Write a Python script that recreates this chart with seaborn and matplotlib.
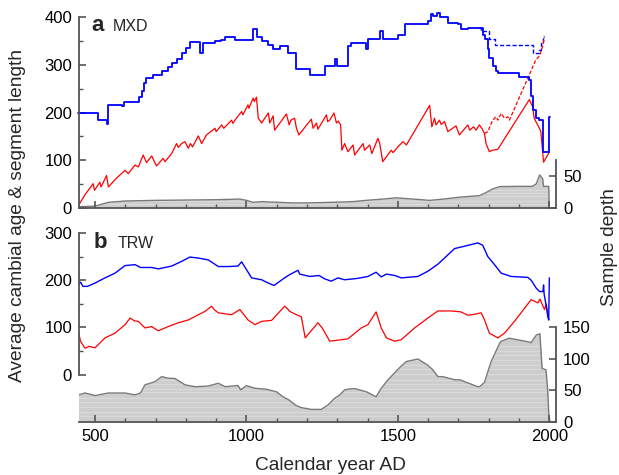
import numpy as np
import pandas as pd
import matplotlib
matplotlib.use("Agg")
import matplotlib.pyplot as plt
import seaborn as sns

# ---------------- MXD (panel a) ----------------
# mean cambial age, stepwise series (year of change, value)
mxd_age_years = [445, 510, 538, 543, 588, 595, 638, 645, 655, 662, 669, 690, 720, 740, 753, 770,
                 786, 800, 813, 846, 857, 896, 915, 929, 962, 1022, 1036, 1050, 1070, 1087, 1110,
                 1136, 1165, 1210, 1258, 1291, 1300, 1334, 1345, 1396, 1400, 1440, 1450, 1500,
                 1522, 1598, 1610, 1615, 1630, 1640, 1664, 1697, 1708, 1730, 1780, 1786, 1797,
                 1802, 1813, 1824, 1829, 1901, 1934, 1940, 1945, 1956, 1967, 1978, 2000, 2003]
mxd_age_values = [198, 184, 176, 216, 213, 223, 221, 233, 245, 262, 272, 279, 286, 296, 304, 312,
                  325, 335, 347, 325, 346, 350, 352, 358, 351, 374, 358, 349, 342, 333, 339,
                  325, 291, 278, 298, 312, 297, 339, 346, 332, 353, 370, 353, 363,
                  385, 392, 406, 402, 409, 400, 388, 385, 374, 378, 363, 353, 332,
                  314, 297, 286, 283, 274, 269, 234, 206, 188, 184, 118, 191, 191]

# alternative cambial age (dashed)
mxd_age_alt_years = [1769, 1775, 1802, 1819, 1945, 1967, 1972, 1978, 1984]
mxd_age_alt_values = [378, 370, 353, 341, 325, 330, 345, 360, 360]

# mean segment length (sawtooth)
mxd_seg_years = [445, 467, 494, 498, 516, 520, 538, 544, 570, 599, 610, 632, 643, 659, 670, 687,
                 703, 725, 731, 753, 764, 769, 775, 786, 797, 808, 815, 822, 841, 852, 868, 896,
                 900, 918, 925, 951, 955, 962, 984, 988, 1005, 1008, 1022, 1026, 1033, 1039,
                 1050, 1072, 1077, 1088, 1093, 1132, 1141, 1147, 1159, 1165, 1173, 1214, 1220,
                 1231, 1236, 1264, 1268, 1275, 1289, 1297, 1303, 1311, 1315, 1324, 1335, 1352,
                 1357, 1385, 1390, 1407, 1414, 1434, 1440, 1450, 1478, 1484, 1500, 1517, 1528,
                 1605, 1612, 1621, 1626, 1637, 1643, 1654, 1665, 1692, 1703, 1731, 1737, 1750,
                 1758, 1769, 1777, 1786, 1791, 1802, 1813, 1830, 1934, 1945, 1950, 1967, 1972,
                 1981, 2000]
mxd_seg_values = [5, 28, 51, 37, 54, 44, 68, 44, 62, 79, 72, 90, 86, 111, 95, 109,
                  88, 104, 97, 114, 128, 135, 127, 135, 139, 125, 135, 128, 151, 135, 153, 167,
                  160, 174, 167, 184, 177, 184, 202, 195, 216, 209, 230, 223, 232, 188,
                  178, 199, 178, 193, 163, 197, 174, 184, 188, 167, 153, 186, 167,
                  178, 165, 195, 181, 184, 199, 178, 182, 174, 121, 135, 118, 132,
                  111, 135, 121, 132, 114, 146, 135, 97, 121, 116, 128, 139, 132,
                  215, 170, 188, 174, 184, 175, 181, 160, 172, 153, 174, 163, 170,
                  163, 174, 167, 156, 135, 118, 121, 123, 227, 212, 188, 167, 160,
                  96, 117]

# alternative segment length (dashed)
mxd_seg_alt_years = [1786, 1797, 1813, 1824, 1830, 1841, 1852, 1863, 1868, 1956, 1967, 1978, 1984]
mxd_seg_alt_values = [156, 160, 184, 191, 184, 198, 188, 191, 184, 311, 318, 339, 357]

# sample depth
mxd_depth_years = [445, 500, 530, 545, 600, 700, 800, 900, 978, 1000, 1022, 1050, 1100, 1150,
                   1200, 1285, 1350, 1395, 1450, 1495, 1550, 1605, 1650, 1704, 1770, 1790, 1813,
                   1836, 1900, 1944, 1957, 1968, 1978, 1981, 1998, 2000]
mxd_depth_values = [2, 3, 7, 9, 11, 12, 12.5, 13, 14, 12, 9, 10, 9, 8,
                    8, 9, 10, 12, 14, 16, 14, 12, 14, 17, 19.5, 24, 30,
                    33.6, 34, 34, 38, 52, 46, 34, 34, 0]

# ---------------- TRW (panel b) ----------------
trw_age_years = [445, 452, 460, 475, 500, 533, 566, 599, 632, 650, 687, 709, 731, 753, 786, 813,
                 841, 874, 907, 940, 972, 984, 1017, 1050, 1072, 1091, 1126, 1143, 1170, 1176,
                 1209, 1240, 1258, 1280, 1302, 1324, 1368, 1401, 1428, 1445, 1462, 1490, 1511,
                 1566, 1599, 1632, 1654, 1687, 1720, 1764, 1780, 1797, 1819, 1841, 1874, 1929,
                 1940, 1957, 1968, 1979, 1981, 1983, 1989, 1995, 1998, 2000]
trw_age_values = [190, 196, 187, 187, 194, 205, 215, 231, 233, 227, 227, 224, 227, 230, 240, 249,
                  247, 243, 229, 229, 230, 239, 205, 201, 194, 189, 205, 212, 221, 213,
                  208, 210, 203, 198, 205, 201, 204, 208, 217, 207, 213, 210, 205,
                  208, 219, 234, 247, 267, 272, 279, 274, 250, 233, 215, 208, 206,
                  200, 183, 176, 176, 190, 170, 148, 123, 116, 205]

trw_seg_years = [445, 452, 467, 480, 500, 533, 566, 599, 616, 630, 643, 665, 687, 709, 742, 775,
                 808, 841, 863, 885, 895, 907, 951, 978, 1005, 1028, 1050, 1083, 1126, 1135,
                 1143, 1165, 1181, 1194, 1236, 1250, 1275, 1313, 1335, 1379, 1401, 1428, 1445,
                 1462, 1489, 1511, 1555, 1599, 1632, 1676, 1708, 1731, 1753, 1775, 1786, 1802,
                 1830, 1852, 1885, 1940, 1962, 1969, 1984, 1990, 1998]
trw_seg_values = [92, 71, 56, 60, 57, 78, 88, 106, 120, 114, 113, 99, 102, 93, 102, 110,
                  116, 127, 134, 145, 137, 131, 127, 138, 116, 106, 113, 115, 145, 140,
                  134, 127, 123, 78, 110, 99, 71, 74, 76, 99, 106, 133, 99,
                  78, 71, 74, 99, 120, 135, 135, 133, 126, 128, 131, 116, 88,
                  78, 88, 113, 159, 152, 160, 138, 150, 116]

trw_depth_years = [445, 467, 500, 544, 599, 632, 650, 665, 698, 720, 742, 764, 797, 830, 874, 907,
                   930, 972, 981, 1000, 1028, 1066, 1099, 1121, 1140, 1165, 1181, 1214, 1247,
                   1269, 1291, 1308, 1324, 1341, 1357, 1396, 1428, 1445, 1467, 1489, 1505, 1528,
                   1566, 1599, 1615, 1632, 1648, 1687, 1704, 1764, 1770, 1786, 1807, 1836, 1841,
                   1868, 1923, 1940, 1957, 1969, 1976, 1989, 1995, 1998, 2002]
trw_depth_values = [43, 46, 42, 46, 46, 43, 46, 59, 64, 72, 69.5, 69, 59, 56, 57, 61.5,
                    56, 58, 51, 57.7, 53.5, 52, 48, 40, 35, 26, 22.8, 20, 20,
                    27, 37.6, 43, 51, 52.5, 53, 48, 40, 53.5, 66.8, 78, 86, 96,
                    100, 90, 83, 72, 72, 67, 67, 56, 56, 63, 95, 125, 128,
                    133, 128, 126, 138, 140, 85, 82.7, 48, 14, 0]

BLUE = "#0000ff"
RED = "#ff0000"
SPINE = "#555555"
FILL = "#cdcdcd"
BAND = "#dadada"
EDGE = "#7a7a7a"

sns.set_theme(style="ticks")
plt.rcParams["font.family"] = ["Liberation Sans", "DejaVu Sans"]
plt.rcParams["axes.edgecolor"] = SPINE
plt.rcParams["xtick.color"] = SPINE
plt.rcParams["ytick.color"] = SPINE
plt.rcParams["xtick.labelcolor"] = "black"
plt.rcParams["ytick.labelcolor"] = "black"

fig = plt.figure(figsize=(6.19, 4.75), dpi=100)
ax_a = fig.add_axes([0.1276, 0.5621, 0.7706, 0.4021])
ax_b = fig.add_axes([0.1276, 0.1116, 0.7706, 0.3979])
ax_ar = ax_a.twinx()
ax_br = ax_b.twinx()

XLIM = (447, 2022)


def style_axes(ax, axr, ylim, left_bounds, right_bounds, right_ticks, show_xlabels):
    ax.set_xlim(*XLIM)
    ax.set_ylim(*ylim)
    axr.set_ylim(0, 300)
    ax.set_zorder(axr.get_zorder() + 1)
    ax.patch.set_visible(False)
    for s in ("top", "right"):
        ax.spines[s].set_visible(False)
    for s in ("top", "left", "bottom"):
        axr.spines[s].set_visible(False)
    ax.spines["left"].set_bounds(*left_bounds)
    axr.spines["right"].set_bounds(*right_bounds)
    for sp in list(ax.spines.values()) + list(axr.spines.values()):
        sp.set_linewidth(1.3)
        sp.set_color(SPINE)
    ax.set_xticks([500, 1000, 1500, 2000])
    ax.set_xticks(np.arange(500, 2001, 100), minor=True)
    ax.set_yticks(np.arange(0, left_bounds[1] + 1, 100))
    ax.set_yticks(np.arange(0, left_bounds[1] + 1, 50), minor=True)
    axr.set_yticks(right_ticks)
    ax.tick_params(axis="both", which="major", direction="in", length=5, width=1.2,
                   labelsize=12, pad=5)
    ax.tick_params(axis="both", which="minor", direction="in", length=2.8, width=1.0)
    ax.tick_params(axis="x", which="both", top=False)
    ax.tick_params(axis="y", which="both", right=False)
    axr.tick_params(axis="y", which="major", direction="in", length=5, width=1.2,
                    labelsize=12, pad=5)
    if not show_xlabels:
        ax.tick_params(axis="x", labelbottom=False)
    ax.set_xlabel("")
    ax.set_ylabel("")
    axr.set_ylabel("")


def depth_fill(axr, years, values, bands):
    poly = axr.fill_between(years, 0, values, color=FILL, linewidth=0, zorder=1)
    # faint horizontal banding inside the filled area
    for level in bands:
        ln = axr.axhline(level, color=BAND, linewidth=0.9, zorder=1.5)
        ln.set_clip_path(poly.get_paths()[0], poly.get_transform())
    sns.lineplot(x=years, y=values, ax=axr, color=EDGE, linewidth=1.0,
                 estimator=None, sort=False)


# ---- panel a: MXD ----
depth_fill(ax_ar, mxd_depth_years, mxd_depth_values, [6, 11, 19, 24, 28])
sns.lineplot(x=mxd_age_alt_years, y=mxd_age_alt_values, ax=ax_a, color=BLUE, linewidth=1.0,
             linestyle=(0, (3, 1.5)), drawstyle="steps-post", estimator=None, sort=False,
             clip_on=False)
sns.lineplot(x=mxd_seg_alt_years, y=mxd_seg_alt_values, ax=ax_a, color=RED, linewidth=0.9,
             linestyle=(0, (3, 1.5)), estimator=None, sort=False)
sns.lineplot(x=mxd_seg_years, y=mxd_seg_values, ax=ax_a, color=RED, linewidth=0.9,
             estimator=None, sort=False)
sns.lineplot(x=mxd_age_years, y=mxd_age_values, ax=ax_a, color=BLUE, linewidth=1.3,
             drawstyle="steps-post", estimator=None, sort=False, clip_on=False)
style_axes(ax_a, ax_ar, (0, 400), (0, 400), (0, 75), [0, 50], False)

# ---- panel b: TRW ----
depth_fill(ax_br, trw_depth_years, trw_depth_values,
           [9, 16, 23, 31, 38, 47, 53, 61, 67, 76, 84, 91, 99, 106, 113, 121])
sns.lineplot(x=trw_seg_years, y=trw_seg_values, ax=ax_b, color=RED, linewidth=0.9,
             estimator=None, sort=False)
sns.lineplot(x=trw_age_years, y=trw_age_values, ax=ax_b, color=BLUE, linewidth=1.0,
             estimator=None, sort=False)
style_axes(ax_b, ax_br, (-100, 300), (0, 300), (0, 150), [0, 50, 100, 150], True)

# panel labels
ax_a.text(0.027, 0.925, "a", transform=ax_a.transAxes, fontsize=16, fontweight="bold",
          va="baseline", ha="left")
ax_a.text(0.071, 0.925, "MXD", transform=ax_a.transAxes, fontsize=11.5,
          va="baseline", ha="left")
ax_b.text(0.031, 0.92, "b", transform=ax_b.transAxes, fontsize=16, fontweight="bold",
          va="baseline", ha="left")
ax_b.text(0.080, 0.92, "TRW", transform=ax_b.transAxes, fontsize=11.5,
          va="baseline", ha="left")

# shared axis titles
fig.text(0.029, 1 - 216 / 475, "Average cambial age & segment length", rotation=90,
         fontsize=13.8, ha="center", va="center")
fig.text(0.984, 1 - 247 / 475, "Sample depth", rotation=90, fontsize=13.8,
         ha="center", va="center")
fig.text(330 / 619, 1 - 465 / 475, "Calendar year AD", fontsize=13.8,
         ha="center", va="center")

fig.savefig("out.png", dpi=100)
